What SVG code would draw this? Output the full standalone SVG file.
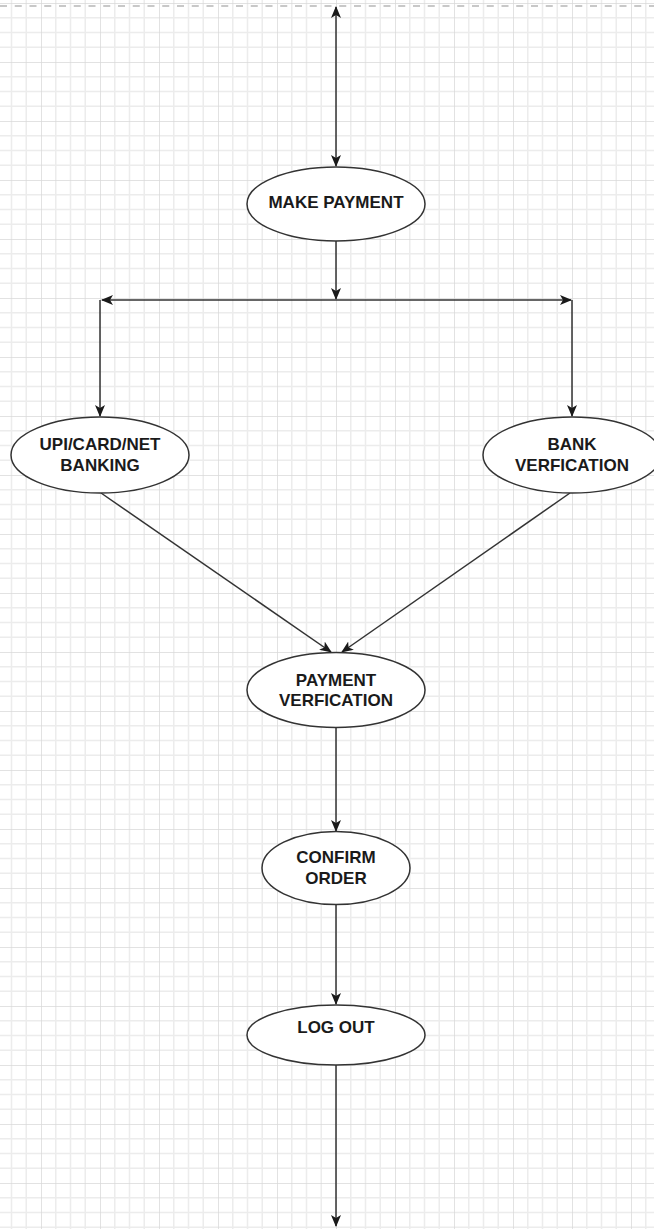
<svg xmlns="http://www.w3.org/2000/svg" width="654" height="1229" viewBox="0 0 654 1229">
  <style>
    .node ellipse { fill: #ffffff; stroke: #333333; stroke-width: 1.5; }
    .node text { font-family: "Liberation Sans", Arial, sans-serif; font-weight: bold; font-size: 17px; fill: #1a1a1a; text-anchor: middle; }
    .edge { fill: none; stroke: #333333; stroke-width: 1.5; }
  </style>
  <defs>
    <pattern id="grid" x="-18" y="3" width="59" height="59" patternUnits="userSpaceOnUse">
      <path d="M14.75 0V59M29.5 0V59M44.25 0V59M0 14.75H59M0 29.5H59M0 44.25H59" stroke="#ececec" stroke-width="1.5" fill="none"/>
      <path d="M0 0V59M0 0H59" stroke="#d9d9d9" stroke-width="1.5" fill="none"/>
    </pattern>
    <marker id="arr" viewBox="0 0 12 10" refX="11" refY="5" markerWidth="12" markerHeight="10" markerUnits="userSpaceOnUse" orient="auto-start-reverse">
      <path d="M0 0 L12 5 L0 10 L3 5 Z" fill="#1a1a1a"/>
    </marker>
  </defs>
  <rect width="654" height="1229" fill="#ffffff"/>
  <rect width="654" height="1229" fill="url(#grid)"/>
  <line x1="0" y1="6" x2="654" y2="6" stroke="#c8c8c8" stroke-width="2" stroke-dasharray="7 7.75"/>

  <g id="connectors">
    <path class="edge" d="M336 7 V166" marker-start="url(#arr)" marker-end="url(#arr)"/>
    <path class="edge" d="M336 241 V299" marker-end="url(#arr)"/>
    <path class="edge" d="M336 300 H102" marker-end="url(#arr)"/>
    <path class="edge" d="M336 300 H571" marker-end="url(#arr)"/>
    <path class="edge" d="M100 300 V416" marker-end="url(#arr)"/>
    <path class="edge" d="M572 300 V416" marker-end="url(#arr)"/>
    <path class="edge" d="M101 493 L331 652" marker-end="url(#arr)"/>
    <path class="edge" d="M570 493 L342 652" marker-end="url(#arr)"/>
    <path class="edge" d="M336 728 V831" marker-end="url(#arr)"/>
    <path class="edge" d="M336 905 V1004" marker-end="url(#arr)"/>
    <path class="edge" d="M336 1065 V1226" marker-end="url(#arr)"/>
  </g>

  <g id="make-payment" class="node">
    <ellipse cx="336" cy="204" rx="89" ry="37"/>
    <text x="336" y="208">MAKE PAYMENT</text>
  </g>
  <g id="upi-card-net-banking" class="node">
    <ellipse cx="100" cy="455" rx="89" ry="38"/>
    <text x="100" y="450">UPI/CARD/NET</text>
    <text x="100" y="471">BANKING</text>
  </g>
  <g id="bank-verfication" class="node">
    <ellipse cx="572" cy="455" rx="89" ry="38"/>
    <text x="572" y="450">BANK</text>
    <text x="572" y="471">VERFICATION</text>
  </g>
  <g id="payment-verfication" class="node">
    <ellipse cx="336" cy="690" rx="89" ry="37.5"/>
    <text x="336" y="686">PAYMENT</text>
    <text x="336" y="706">VERFICATION</text>
  </g>
  <g id="confirm-order" class="node">
    <ellipse cx="336" cy="868" rx="74" ry="36.5"/>
    <text x="336" y="863">CONFIRM</text>
    <text x="336" y="884">ORDER</text>
  </g>
  <g id="log-out" class="node">
    <ellipse cx="336" cy="1035" rx="89" ry="30"/>
    <text x="336" y="1033">LOG OUT</text>
  </g>
</svg>
